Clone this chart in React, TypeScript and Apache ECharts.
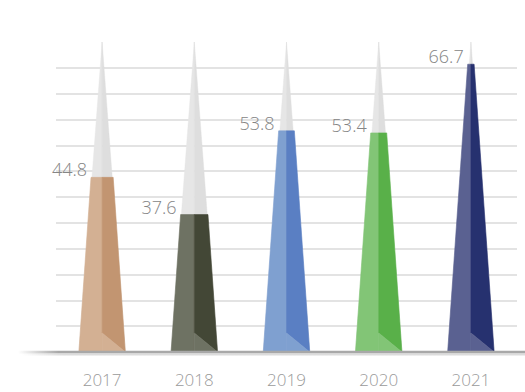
import React, { useEffect, useRef } from "react";
import * as echarts from "echarts";

const CATEGORIES = ["2017", "2018", "2019", "2020", "2021"];
const VALUES = [44.8, 37.6, 53.8, 53.4, 66.7];

// value axis extent (baseline / spike apex)
const AXIS_MIN = 11;
const AXIS_MAX = 71;

// style constants
const LIGHT = ["#d3b093", "#6e7263", "#7fa0d0", "#82c576", "#5a6191"];
const DARK = ["#c29571", "#434736", "#5a7fc3", "#59b049", "#26316f"];
const FONT = "'Open Sans', 'Liberation Sans', sans-serif";

export default function App() {
  const ref = useRef<HTMLDivElement>(null);

  useEffect(() => {
    document.body.style.margin = "0";
    const chart = echarts.init(ref.current!, null, { renderer: "svg" });
    const data = VALUES.map((v, i) => [i, v]);
    const fillStyle = (c: string) => ({ fill: c, stroke: c, lineWidth: 0.6 });

    chart.setOption({
      animation: false,
      grid: { left: 56, right: 8, top: 42, bottom: 40 },
      xAxis: {
        type: "category",
        data: CATEGORIES,
        axisLine: { show: false },
        axisTick: { show: false },
        axisLabel: {
          color: "#9a9a9a",
          fontSize: 17,
          fontFamily: FONT,
          fontWeight: 300,
          margin: 19,
        },
      },
      yAxis: [
        {
          type: "value",
          min: AXIS_MIN,
          max: AXIS_MAX,
          show: false,
          splitLine: { show: false },
        },
        {
          type: "value",
          min: 0,
          max: 12,
          interval: 1,
          axisLine: { show: false },
          axisTick: { show: false },
          axisLabel: { show: false },
          splitLine: {
            show: true,
            showMinLine: false,
            showMaxLine: false,
            lineStyle: { color: "#dadada", width: 1.5 },
          },
        },
      ],
      graphic: [
        {
          type: "rect",
          shape: { x: 18, y: 350.8, width: 507, height: 2.6 },
          style: {
            fill: new echarts.graphic.LinearGradient(0, 0, 1, 0, [
              { offset: 0, color: "rgba(170,170,170,0)" },
              { offset: 0.08, color: "#a8a8a8" },
              { offset: 1, color: "#a8a8a8" },
            ]),
          },
          z: 10,
        },
        {
          type: "rect",
          shape: { x: 22, y: 353.4, width: 503, height: 2 },
          style: {
            fill: new echarts.graphic.LinearGradient(0, 0, 1, 0, [
              { offset: 0, color: "rgba(220,220,220,0)" },
              { offset: 0.08, color: "#dcdcdc" },
              { offset: 1, color: "#dcdcdc" },
            ]),
          },
          z: 10,
        },
      ],
      series: [
        {
          type: "custom",
          yAxisIndex: 0,
          data,
          encode: { x: 0, y: 1 },
          clip: false,
          renderItem: (params: any, api: any) => {
            const idx = api.value(0);
            const v = api.value(1);
            const [cx, yb] = api.coord([idx, AXIS_MIN]);
            const ya = api.coord([idx, AXIS_MAX])[1];
            const yv = api.coord([idx, v])[1];
            const hw = api.size([1, 0])[0] * 0.252;
            const H = yb - ya;
            const yc = yb - H * 1.077;
            const w = (hw * (yv - yc)) / (yb - yc);
            const yd = yb - hw * 0.82;
            const i = params.dataIndex;
            return {
              type: "group",
              children: [
                {
                  type: "polygon",
                  shape: { points: [[cx - hw, yb], [cx, ya], [cx, yb]] },
                  style: { fill: "#e6e6e6", stroke: "#e6e6e6", lineWidth: 0.4 },
                },
                {
                  type: "polygon",
                  shape: { points: [[cx, yb], [cx, ya], [cx + hw, yb]] },
                  style: { fill: "#dedede", stroke: "#dedede", lineWidth: 0.4 },
                },
                {
                  type: "polygon",
                  shape: {
                    points: [[cx - hw, yb], [cx - w, yv], [cx, yv], [cx, yb]],
                  },
                  style: fillStyle(LIGHT[i]),
                },
                {
                  type: "polygon",
                  shape: {
                    points: [[cx, yv], [cx + w, yv], [cx + hw, yb], [cx, yd]],
                  },
                  style: fillStyle(DARK[i]),
                },
                {
                  type: "polygon",
                  shape: { points: [[cx, yd], [cx + hw, yb], [cx, yb]] },
                  style: fillStyle(LIGHT[i]),
                },
                {
                  type: "text",
                  style: {
                    text: String(v),
                    x: cx - w - 4,
                    y: yv + 1,
                    align: "right",
                    verticalAlign: "bottom",
                    fill: "#858585",
                    fontSize: 18,
                    fontFamily: FONT,
                    fontWeight: 300,
                  },
                },
              ],
            };
          },
        },
      ],
    });

    return () => chart.dispose();
  }, []);

  return <div ref={ref} style={{ width: 525, height: 392 }} />;
}
